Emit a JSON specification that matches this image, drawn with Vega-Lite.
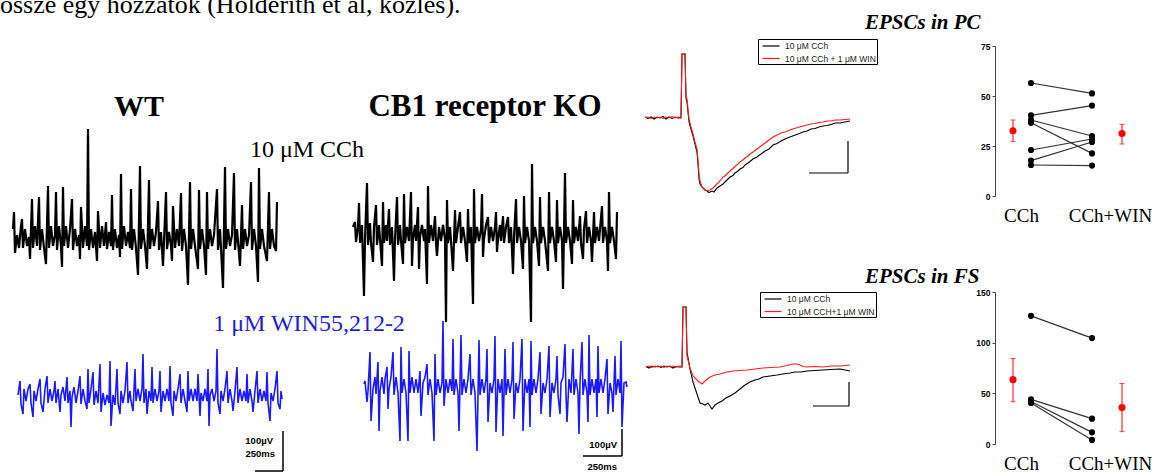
{
"$schema":"https://vega.github.io/schema/vega-lite/v6.json",
"padding":{"left":0,"top":-8,"right":0,"bottom":0},
"background":"white",
"title":{"text":"össze egy hozzátok (Holderith et al, közlés).","anchor":"start","frame":"group","dx":-13,"offset":-27,"baseline":"alphabetic","font":"Liberation Serif","fontSize":26,"fontWeight":"normal","color":"black"},
"config":{"view":{"stroke":null}},
"datasets":{
"wt_cch":[{"t":0,"v":7},{"t":1,"v":24},{"t":2,"v":-17},{"t":4,"v":1},{"t":6,"v":-12},{"t":8,"v":10},{"t":9,"v":17},{"t":10,"v":-12},{"t":12,"v":7},{"t":14,"v":-10},{"t":16,"v":-1},{"t":17,"v":-23},{"t":19,"v":37},{"t":20,"v":-12},{"t":22,"v":10},{"t":24,"v":-10},{"t":26,"v":39},{"t":27,"v":-14},{"t":29,"v":7},{"t":31,"v":-12},{"t":33,"v":-28},{"t":35,"v":50},{"t":36,"v":-12},{"t":38,"v":10},{"t":40,"v":-10},{"t":42,"v":1},{"t":43,"v":44},{"t":44,"v":-14},{"t":46,"v":10},{"t":48,"v":-10},{"t":49,"v":-31},{"t":50,"v":49},{"t":51,"v":-10},{"t":53,"v":10},{"t":55,"v":-12},{"t":57,"v":7},{"t":59,"v":37},{"t":60,"v":-14},{"t":62,"v":7},{"t":64,"v":-10},{"t":66,"v":1},{"t":67,"v":-23},{"t":68,"v":29},{"t":70,"v":-12},{"t":72,"v":10},{"t":74,"v":-10},{"t":75,"v":107},{"t":76,"v":-14},{"t":78,"v":7},{"t":80,"v":-12},{"t":82,"v":4},{"t":84,"v":-25},{"t":85,"v":25},{"t":87,"v":-12},{"t":89,"v":10},{"t":91,"v":-10},{"t":93,"v":14},{"t":94,"v":-13},{"t":96,"v":4},{"t":98,"v":-10},{"t":99,"v":41},{"t":100,"v":-14},{"t":102,"v":7},{"t":104,"v":-12},{"t":106,"v":1},{"t":107,"v":-21},{"t":108,"v":62},{"t":109,"v":-13},{"t":111,"v":10},{"t":113,"v":-10},{"t":115,"v":4},{"t":117,"v":-12},{"t":118,"v":47},{"t":119,"v":-14},{"t":121,"v":7},{"t":123,"v":-12},{"t":125,"v":-39},{"t":127,"v":70},{"t":128,"v":-13},{"t":130,"v":7},{"t":132,"v":-10},{"t":134,"v":-33},{"t":136,"v":56},{"t":137,"v":-13},{"t":139,"v":7},{"t":141,"v":-10},{"t":143,"v":4},{"t":145,"v":35},{"t":146,"v":-14},{"t":148,"v":4},{"t":150,"v":-30},{"t":153,"v":44},{"t":154,"v":-13},{"t":156,"v":4},{"t":158,"v":-10},{"t":159,"v":-25},{"t":160,"v":30},{"t":162,"v":-12},{"t":164,"v":7},{"t":166,"v":-10},{"t":168,"v":43},{"t":169,"v":-15},{"t":171,"v":7},{"t":173,"v":-10},{"t":175,"v":-49},{"t":177,"v":54},{"t":178,"v":-13},{"t":180,"v":7},{"t":182,"v":-10},{"t":185,"v":-33},{"t":186,"v":46},{"t":187,"v":-13},{"t":189,"v":7},{"t":191,"v":-10},{"t":193,"v":-39},{"t":194,"v":44},{"t":195,"v":-13},{"t":197,"v":7},{"t":199,"v":-10},{"t":201,"v":1},{"t":204,"v":47},{"t":205,"v":-14},{"t":207,"v":7},{"t":210,"v":-52},{"t":212,"v":69},{"t":213,"v":-13},{"t":215,"v":7},{"t":217,"v":-10},{"t":219,"v":1},{"t":221,"v":63},{"t":222,"v":-14},{"t":224,"v":7},{"t":227,"v":-30},{"t":229,"v":31},{"t":230,"v":-13},{"t":232,"v":7},{"t":234,"v":-10},{"t":236,"v":1},{"t":238,"v":54},{"t":239,"v":-14},{"t":241,"v":7},{"t":243,"v":-10},{"t":245,"v":-46},{"t":246,"v":68},{"t":247,"v":-13},{"t":249,"v":7},{"t":251,"v":-10},{"t":254,"v":-25},{"t":256,"v":44},{"t":257,"v":-13},{"t":259,"v":7},{"t":261,"v":-10},{"t":263,"v":-15},{"t":264,"v":34}],
"ko_cch":[{"t":0,"v":6},{"t":2,"v":11},{"t":3,"v":-9},{"t":5,"v":6},{"t":6,"v":30},{"t":7,"v":-10},{"t":9,"v":8},{"t":11,"v":-63},{"t":12,"v":-6},{"t":14,"v":50},{"t":15,"v":-12},{"t":17,"v":10},{"t":18,"v":-10},{"t":20,"v":-29},{"t":21,"v":6},{"t":23,"v":28},{"t":24,"v":-12},{"t":26,"v":8},{"t":27,"v":-6},{"t":29,"v":-33},{"t":30,"v":31},{"t":31,"v":-10},{"t":33,"v":8},{"t":34,"v":-8},{"t":36,"v":24},{"t":37,"v":-12},{"t":39,"v":6},{"t":41,"v":-48},{"t":42,"v":-6},{"t":44,"v":36},{"t":45,"v":-12},{"t":47,"v":8},{"t":48,"v":-8},{"t":50,"v":-31},{"t":51,"v":39},{"t":52,"v":-10},{"t":54,"v":6},{"t":56,"v":-8},{"t":58,"v":41},{"t":59,"v":-33},{"t":60,"v":-6},{"t":62,"v":8},{"t":63,"v":-8},{"t":65,"v":26},{"t":66,"v":-36},{"t":67,"v":-4},{"t":69,"v":8},{"t":71,"v":-8},{"t":72,"v":4},{"t":74,"v":-51},{"t":75,"v":47},{"t":76,"v":-10},{"t":78,"v":8},{"t":80,"v":-8},{"t":82,"v":17},{"t":83,"v":-10},{"t":84,"v":-23},{"t":86,"v":6},{"t":88,"v":-8},{"t":90,"v":8},{"t":92,"v":-6},{"t":93,"v":-89},{"t":94,"v":33},{"t":95,"v":-10},{"t":97,"v":6},{"t":98,"v":-8},{"t":100,"v":-38},{"t":102,"v":23},{"t":103,"v":-10},{"t":105,"v":6},{"t":107,"v":21},{"t":108,"v":-10},{"t":110,"v":6},{"t":112,"v":-8},{"t":114,"v":-29},{"t":115,"v":24},{"t":116,"v":-10},{"t":118,"v":6},{"t":120,"v":-71},{"t":121,"v":44},{"t":122,"v":-10},{"t":124,"v":6},{"t":126,"v":-8},{"t":128,"v":4},{"t":129,"v":39},{"t":130,"v":-24},{"t":131,"v":-6},{"t":133,"v":8},{"t":135,"v":16},{"t":136,"v":-10},{"t":138,"v":6},{"t":140,"v":-8},{"t":142,"v":6},{"t":143,"v":21},{"t":144,"v":-19},{"t":145,"v":-6},{"t":147,"v":8},{"t":148,"v":-8},{"t":150,"v":17},{"t":151,"v":-10},{"t":153,"v":6},{"t":155,"v":16},{"t":156,"v":-10},{"t":158,"v":6},{"t":160,"v":-41},{"t":161,"v":-4},{"t":163,"v":34},{"t":164,"v":-10},{"t":166,"v":6},{"t":168,"v":-8},{"t":170,"v":-36},{"t":171,"v":37},{"t":172,"v":-10},{"t":174,"v":6},{"t":176,"v":-8},{"t":178,"v":-89},{"t":179,"v":69},{"t":180,"v":-10},{"t":182,"v":6},{"t":184,"v":-8},{"t":186,"v":-33},{"t":187,"v":36},{"t":188,"v":-10},{"t":190,"v":6},{"t":192,"v":-8},{"t":195,"v":-38},{"t":196,"v":41},{"t":197,"v":-10},{"t":199,"v":6},{"t":201,"v":-8},{"t":203,"v":-29},{"t":204,"v":33},{"t":205,"v":-10},{"t":207,"v":6},{"t":209,"v":-8},{"t":210,"v":-56},{"t":212,"v":60},{"t":213,"v":-10},{"t":215,"v":6},{"t":217,"v":-8},{"t":219,"v":-31},{"t":220,"v":33},{"t":221,"v":-10},{"t":223,"v":6},{"t":225,"v":-8},{"t":227,"v":17},{"t":228,"v":-10},{"t":230,"v":-26},{"t":231,"v":4},{"t":233,"v":22},{"t":234,"v":-10},{"t":236,"v":6},{"t":238,"v":-8},{"t":239,"v":-29},{"t":241,"v":21},{"t":242,"v":-10},{"t":244,"v":6},{"t":246,"v":-8},{"t":247,"v":4},{"t":249,"v":27},{"t":250,"v":-10},{"t":252,"v":6},{"t":254,"v":-8},{"t":255,"v":-38},{"t":256,"v":41},{"t":257,"v":-10},{"t":259,"v":6},{"t":261,"v":-8},{"t":263,"v":-26},{"t":264,"v":21}],
"wt_win":[{"t":0,"v":0},{"t":2,"v":14},{"t":3,"v":-9},{"t":5,"v":-19},{"t":6,"v":6},{"t":8,"v":-6},{"t":10,"v":6},{"t":12,"v":11},{"t":13,"v":-8},{"t":15,"v":-22},{"t":16,"v":4},{"t":18,"v":-6},{"t":20,"v":6},{"t":22,"v":16},{"t":23,"v":-8},{"t":25,"v":-17},{"t":27,"v":6},{"t":29,"v":19},{"t":30,"v":-8},{"t":32,"v":6},{"t":34,"v":-6},{"t":36,"v":4},{"t":37,"v":14},{"t":38,"v":-8},{"t":40,"v":6},{"t":42,"v":-17},{"t":43,"v":0},{"t":45,"v":8},{"t":47,"v":-6},{"t":49,"v":18},{"t":50,"v":-8},{"t":52,"v":4},{"t":53,"v":-32},{"t":54,"v":-2},{"t":56,"v":8},{"t":58,"v":-8},{"t":60,"v":4},{"t":62,"v":19},{"t":63,"v":-9},{"t":65,"v":6},{"t":67,"v":-6},{"t":69,"v":-14},{"t":70,"v":26},{"t":71,"v":-8},{"t":73,"v":6},{"t":75,"v":23},{"t":76,"v":-10},{"t":78,"v":4},{"t":80,"v":-8},{"t":82,"v":31},{"t":83,"v":-17},{"t":85,"v":2},{"t":87,"v":-10},{"t":89,"v":0},{"t":91,"v":-8},{"t":92,"v":34},{"t":93,"v":-31},{"t":95,"v":0},{"t":97,"v":-10},{"t":99,"v":26},{"t":100,"v":-8},{"t":102,"v":-19},{"t":103,"v":4},{"t":105,"v":-8},{"t":107,"v":4},{"t":109,"v":33},{"t":110,"v":-8},{"t":112,"v":4},{"t":113,"v":-6},{"t":115,"v":-16},{"t":117,"v":26},{"t":118,"v":-6},{"t":120,"v":6},{"t":122,"v":-6},{"t":124,"v":6},{"t":125,"v":41},{"t":126,"v":-8},{"t":128,"v":6},{"t":129,"v":-19},{"t":131,"v":4},{"t":133,"v":-6},{"t":134,"v":28},{"t":135,"v":-8},{"t":137,"v":6},{"t":139,"v":-6},{"t":141,"v":4},{"t":142,"v":24},{"t":143,"v":-17},{"t":145,"v":4},{"t":147,"v":-6},{"t":149,"v":6},{"t":151,"v":-6},{"t":152,"v":29},{"t":153,"v":-8},{"t":155,"v":-21},{"t":156,"v":4},{"t":158,"v":-6},{"t":160,"v":6},{"t":162,"v":21},{"t":163,"v":-8},{"t":165,"v":6},{"t":167,"v":-6},{"t":169,"v":-17},{"t":170,"v":24},{"t":171,"v":-6},{"t":173,"v":6},{"t":175,"v":-6},{"t":177,"v":6},{"t":179,"v":-6},{"t":180,"v":21},{"t":182,"v":-21},{"t":183,"v":2},{"t":185,"v":-6},{"t":187,"v":6},{"t":189,"v":-6},{"t":190,"v":26},{"t":191,"v":-31},{"t":192,"v":0},{"t":194,"v":6},{"t":196,"v":-6},{"t":198,"v":4},{"t":199,"v":46},{"t":200,"v":-8},{"t":202,"v":-19},{"t":203,"v":4},{"t":205,"v":-6},{"t":207,"v":6},{"t":209,"v":24},{"t":210,"v":-8},{"t":212,"v":6},{"t":214,"v":-6},{"t":215,"v":-16},{"t":217,"v":4},{"t":219,"v":28},{"t":220,"v":-8},{"t":222,"v":6},{"t":224,"v":-6},{"t":226,"v":4},{"t":228,"v":-6},{"t":229,"v":21},{"t":230,"v":-8},{"t":232,"v":6},{"t":234,"v":-6},{"t":235,"v":-17},{"t":237,"v":4},{"t":239,"v":24},{"t":240,"v":-8},{"t":242,"v":6},{"t":244,"v":-6},{"t":246,"v":4},{"t":248,"v":-6},{"t":249,"v":23},{"t":250,"v":-8},{"t":252,"v":-26},{"t":253,"v":2},{"t":255,"v":-6},{"t":257,"v":6},{"t":259,"v":24},{"t":260,"v":-8},{"t":262,"v":-14},{"t":263,"v":4},{"t":264,"v":-4}],
"ko_win":[{"t":-1,"v":0},{"t":0,"v":3},{"t":2,"v":-18},{"t":3,"v":-7},{"t":5,"v":32},{"t":6,"v":-37},{"t":8,"v":-5},{"t":10,"v":7},{"t":11,"v":-10},{"t":13,"v":22},{"t":14,"v":-47},{"t":15,"v":-7},{"t":17,"v":7},{"t":19,"v":-10},{"t":20,"v":5},{"t":22,"v":17},{"t":23,"v":-25},{"t":24,"v":-5},{"t":26,"v":7},{"t":28,"v":32},{"t":29,"v":-11},{"t":31,"v":7},{"t":33,"v":-9},{"t":35,"v":-57},{"t":36,"v":37},{"t":37,"v":-9},{"t":39,"v":5},{"t":41,"v":-9},{"t":43,"v":-57},{"t":44,"v":33},{"t":45,"v":-9},{"t":47,"v":7},{"t":49,"v":-9},{"t":51,"v":5},{"t":53,"v":-9},{"t":55,"v":13},{"t":56,"v":-32},{"t":58,"v":1},{"t":60,"v":7},{"t":62,"v":20},{"t":63,"v":-11},{"t":65,"v":5},{"t":67,"v":-9},{"t":69,"v":-57},{"t":70,"v":30},{"t":71,"v":-11},{"t":73,"v":5},{"t":75,"v":-9},{"t":77,"v":1},{"t":78,"v":63},{"t":79,"v":-22},{"t":81,"v":5},{"t":83,"v":-9},{"t":85,"v":5},{"t":87,"v":-7},{"t":88,"v":45},{"t":89,"v":-11},{"t":91,"v":5},{"t":93,"v":-9},{"t":94,"v":-47},{"t":96,"v":49},{"t":97,"v":-11},{"t":99,"v":5},{"t":101,"v":-9},{"t":103,"v":5},{"t":105,"v":30},{"t":106,"v":-11},{"t":108,"v":5},{"t":110,"v":-9},{"t":112,"v":-67},{"t":114,"v":44},{"t":115,"v":-11},{"t":117,"v":5},{"t":119,"v":-9},{"t":121,"v":5},{"t":122,"v":35},{"t":123,"v":-38},{"t":125,"v":1},{"t":127,"v":-9},{"t":129,"v":5},{"t":130,"v":48},{"t":131,"v":-48},{"t":133,"v":5},{"t":135,"v":-9},{"t":137,"v":5},{"t":138,"v":-52},{"t":140,"v":35},{"t":141,"v":-11},{"t":143,"v":5},{"t":145,"v":-9},{"t":147,"v":5},{"t":148,"v":42},{"t":149,"v":-35},{"t":151,"v":1},{"t":153,"v":-9},{"t":155,"v":5},{"t":157,"v":45},{"t":158,"v":-47},{"t":160,"v":5},{"t":162,"v":-9},{"t":164,"v":5},{"t":165,"v":-43},{"t":166,"v":43},{"t":167,"v":-11},{"t":169,"v":5},{"t":171,"v":-9},{"t":173,"v":5},{"t":175,"v":32},{"t":176,"v":-30},{"t":178,"v":1},{"t":180,"v":-9},{"t":182,"v":5},{"t":184,"v":38},{"t":185,"v":-33},{"t":187,"v":1},{"t":189,"v":-9},{"t":191,"v":5},{"t":192,"v":28},{"t":193,"v":-11},{"t":195,"v":-30},{"t":196,"v":1},{"t":198,"v":7},{"t":200,"v":40},{"t":201,"v":-11},{"t":202,"v":-38},{"t":204,"v":5},{"t":206,"v":-9},{"t":208,"v":35},{"t":209,"v":-11},{"t":211,"v":5},{"t":213,"v":-9},{"t":214,"v":-50},{"t":215,"v":1},{"t":217,"v":42},{"t":218,"v":-11},{"t":220,"v":5},{"t":222,"v":-9},{"t":223,"v":-38},{"t":224,"v":49},{"t":225,"v":-11},{"t":227,"v":5},{"t":229,"v":-9},{"t":231,"v":5},{"t":232,"v":-33},{"t":233,"v":38},{"t":234,"v":-9},{"t":236,"v":5},{"t":238,"v":-9},{"t":240,"v":5},{"t":242,"v":25},{"t":243,"v":-30},{"t":245,"v":1},{"t":247,"v":-9},{"t":248,"v":-28},{"t":250,"v":28},{"t":251,"v":-11},{"t":253,"v":5},{"t":255,"v":-9},{"t":256,"v":43},{"t":257,"v":-43},{"t":259,"v":1},{"t":261,"v":2},{"t":262,"v":-3}],
"epsc_pc":[{"cond":"10 μM CCh","t":0,"v":1},{"cond":"10 μM CCh","t":3,"v":-0.5},{"cond":"10 μM CCh","t":6,"v":1},{"cond":"10 μM CCh","t":9,"v":-1},{"cond":"10 μM CCh","t":12,"v":1},{"cond":"10 μM CCh","t":15,"v":0},{"cond":"10 μM CCh","t":18,"v":1.5},{"cond":"10 μM CCh","t":21,"v":-1},{"cond":"10 μM CCh","t":24,"v":1},{"cond":"10 μM CCh","t":27,"v":-0.5},{"cond":"10 μM CCh","t":30,"v":1},{"cond":"10 μM CCh","t":33,"v":0},{"cond":"10 μM CCh","t":36,"v":0},{"cond":"10 μM CCh","t":37,"v":64},{"cond":"10 μM CCh","t":40,"v":64},{"cond":"10 μM CCh","t":41,"v":20},{"cond":"10 μM CCh","t":42,"v":16},{"cond":"10 μM CCh","t":44,"v":-4},{"cond":"10 μM CCh","t":46,"v":-11},{"cond":"10 μM CCh","t":48,"v":-18},{"cond":"10 μM CCh","t":50,"v":-26},{"cond":"10 μM CCh","t":52,"v":-34},{"cond":"10 μM CCh","t":53,"v":-46},{"cond":"10 μM CCh","t":54,"v":-61},{"cond":"10 μM CCh","t":55,"v":-66},{"cond":"10 μM CCh","t":57,"v":-69},{"cond":"10 μM CCh","t":60,"v":-72},{"cond":"10 μM CCh","t":62,"v":-73},{"cond":"10 μM CCh","t":64,"v":-74.5},{"cond":"10 μM CCh","t":67,"v":-73},{"cond":"10 μM CCh","t":69,"v":-74},{"cond":"10 μM CCh","t":72,"v":-70},{"cond":"10 μM CCh","t":75,"v":-68},{"cond":"10 μM CCh","t":78,"v":-66},{"cond":"10 μM CCh","t":80,"v":-64},{"cond":"10 μM CCh","t":83,"v":-61},{"cond":"10 μM CCh","t":85,"v":-59},{"cond":"10 μM CCh","t":88,"v":-57.5},{"cond":"10 μM CCh","t":90,"v":-55},{"cond":"10 μM CCh","t":93,"v":-53},{"cond":"10 μM CCh","t":95,"v":-51},{"cond":"10 μM CCh","t":98,"v":-49.5},{"cond":"10 μM CCh","t":100,"v":-47},{"cond":"10 μM CCh","t":103,"v":-45},{"cond":"10 μM CCh","t":105,"v":-43.5},{"cond":"10 μM CCh","t":108,"v":-41},{"cond":"10 μM CCh","t":112,"v":-39},{"cond":"10 μM CCh","t":116,"v":-36},{"cond":"10 μM CCh","t":120,"v":-33},{"cond":"10 μM CCh","t":124,"v":-31},{"cond":"10 μM CCh","t":128,"v":-27},{"cond":"10 μM CCh","t":132,"v":-25.5},{"cond":"10 μM CCh","t":136,"v":-23},{"cond":"10 μM CCh","t":140,"v":-21},{"cond":"10 μM CCh","t":145,"v":-19},{"cond":"10 μM CCh","t":149,"v":-17.5},{"cond":"10 μM CCh","t":153,"v":-16},{"cond":"10 μM CCh","t":158,"v":-14},{"cond":"10 μM CCh","t":162,"v":-13},{"cond":"10 μM CCh","t":166,"v":-11},{"cond":"10 μM CCh","t":170,"v":-10.5},{"cond":"10 μM CCh","t":174,"v":-9},{"cond":"10 μM CCh","t":178,"v":-8},{"cond":"10 μM CCh","t":182,"v":-7.5},{"cond":"10 μM CCh","t":186,"v":-6.5},{"cond":"10 μM CCh","t":190,"v":-5},{"cond":"10 μM CCh","t":195,"v":-5},{"cond":"10 μM CCh","t":200,"v":-4},{"cond":"10 μM CCh","t":205,"v":-3},
{"cond":"10 μM CCh + 1 μM WIN","t":0,"v":0.5},{"cond":"10 μM CCh + 1 μM WIN","t":3,"v":1},{"cond":"10 μM CCh + 1 μM WIN","t":6,"v":-0.5},{"cond":"10 μM CCh + 1 μM WIN","t":9,"v":1},{"cond":"10 μM CCh + 1 μM WIN","t":12,"v":0},{"cond":"10 μM CCh + 1 μM WIN","t":15,"v":1},{"cond":"10 μM CCh + 1 μM WIN","t":18,"v":-0.5},{"cond":"10 μM CCh + 1 μM WIN","t":21,"v":1},{"cond":"10 μM CCh + 1 μM WIN","t":24,"v":0},{"cond":"10 μM CCh + 1 μM WIN","t":27,"v":1.5},{"cond":"10 μM CCh + 1 μM WIN","t":30,"v":0},{"cond":"10 μM CCh + 1 μM WIN","t":33,"v":1},{"cond":"10 μM CCh + 1 μM WIN","t":36,"v":0.5},{"cond":"10 μM CCh + 1 μM WIN","t":37,"v":64},{"cond":"10 μM CCh + 1 μM WIN","t":40,"v":64},{"cond":"10 μM CCh + 1 μM WIN","t":41,"v":22},{"cond":"10 μM CCh + 1 μM WIN","t":42,"v":19},{"cond":"10 μM CCh + 1 μM WIN","t":44,"v":-1},{"cond":"10 μM CCh + 1 μM WIN","t":46,"v":-9},{"cond":"10 μM CCh + 1 μM WIN","t":48,"v":-16},{"cond":"10 μM CCh + 1 μM WIN","t":50,"v":-24},{"cond":"10 μM CCh + 1 μM WIN","t":52,"v":-31},{"cond":"10 μM CCh + 1 μM WIN","t":53,"v":-42},{"cond":"10 μM CCh + 1 μM WIN","t":54,"v":-56},{"cond":"10 μM CCh + 1 μM WIN","t":55,"v":-63},{"cond":"10 μM CCh + 1 μM WIN","t":57,"v":-69},{"cond":"10 μM CCh + 1 μM WIN","t":60,"v":-72},{"cond":"10 μM CCh + 1 μM WIN","t":62,"v":-72.5},{"cond":"10 μM CCh + 1 μM WIN","t":65,"v":-72},{"cond":"10 μM CCh + 1 μM WIN","t":68,"v":-70},{"cond":"10 μM CCh + 1 μM WIN","t":72,"v":-66},{"cond":"10 μM CCh + 1 μM WIN","t":75,"v":-63},{"cond":"10 μM CCh + 1 μM WIN","t":78,"v":-59},{"cond":"10 μM CCh + 1 μM WIN","t":80,"v":-58},{"cond":"10 μM CCh + 1 μM WIN","t":83,"v":-55},{"cond":"10 μM CCh + 1 μM WIN","t":85,"v":-53},{"cond":"10 μM CCh + 1 μM WIN","t":88,"v":-50.5},{"cond":"10 μM CCh + 1 μM WIN","t":90,"v":-48.5},{"cond":"10 μM CCh + 1 μM WIN","t":93,"v":-46},{"cond":"10 μM CCh + 1 μM WIN","t":95,"v":-44},{"cond":"10 μM CCh + 1 μM WIN","t":98,"v":-42},{"cond":"10 μM CCh + 1 μM WIN","t":100,"v":-40},{"cond":"10 μM CCh + 1 μM WIN","t":103,"v":-38},{"cond":"10 μM CCh + 1 μM WIN","t":105,"v":-36},{"cond":"10 μM CCh + 1 μM WIN","t":108,"v":-34},{"cond":"10 μM CCh + 1 μM WIN","t":112,"v":-31},{"cond":"10 μM CCh + 1 μM WIN","t":116,"v":-28},{"cond":"10 μM CCh + 1 μM WIN","t":120,"v":-25},{"cond":"10 μM CCh + 1 μM WIN","t":124,"v":-22},{"cond":"10 μM CCh + 1 μM WIN","t":128,"v":-19},{"cond":"10 μM CCh + 1 μM WIN","t":132,"v":-17},{"cond":"10 μM CCh + 1 μM WIN","t":136,"v":-15},{"cond":"10 μM CCh + 1 μM WIN","t":140,"v":-14},{"cond":"10 μM CCh + 1 μM WIN","t":145,"v":-12},{"cond":"10 μM CCh + 1 μM WIN","t":149,"v":-10.5},{"cond":"10 μM CCh + 1 μM WIN","t":153,"v":-9.5},{"cond":"10 μM CCh + 1 μM WIN","t":158,"v":-8},{"cond":"10 μM CCh + 1 μM WIN","t":162,"v":-7},{"cond":"10 μM CCh + 1 μM WIN","t":166,"v":-6},{"cond":"10 μM CCh + 1 μM WIN","t":170,"v":-5.5},{"cond":"10 μM CCh + 1 μM WIN","t":174,"v":-4.5},{"cond":"10 μM CCh + 1 μM WIN","t":178,"v":-4},{"cond":"10 μM CCh + 1 μM WIN","t":182,"v":-3},{"cond":"10 μM CCh + 1 μM WIN","t":186,"v":-3},{"cond":"10 μM CCh + 1 μM WIN","t":190,"v":-2},{"cond":"10 μM CCh + 1 μM WIN","t":195,"v":-2},{"cond":"10 μM CCh + 1 μM WIN","t":200,"v":-1.5},{"cond":"10 μM CCh + 1 μM WIN","t":205,"v":-1}],
"epsc_fs":[{"cond":"10 μM CCh","t":1,"v":0.5},{"cond":"10 μM CCh","t":4,"v":-1},{"cond":"10 μM CCh","t":7,"v":1},{"cond":"10 μM CCh","t":10,"v":0},{"cond":"10 μM CCh","t":13,"v":1},{"cond":"10 μM CCh","t":16,"v":-0.5},{"cond":"10 μM CCh","t":19,"v":1},{"cond":"10 μM CCh","t":22,"v":0},{"cond":"10 μM CCh","t":25,"v":1},{"cond":"10 μM CCh","t":28,"v":-1},{"cond":"10 μM CCh","t":31,"v":0.5},{"cond":"10 μM CCh","t":34,"v":0},{"cond":"10 μM CCh","t":37,"v":0},{"cond":"10 μM CCh","t":38,"v":60},{"cond":"10 μM CCh","t":41,"v":60},{"cond":"10 μM CCh","t":42,"v":15},{"cond":"10 μM CCh","t":45,"v":-2},{"cond":"10 μM CCh","t":48,"v":-15},{"cond":"10 μM CCh","t":52,"v":-27},{"cond":"10 μM CCh","t":55,"v":-36},{"cond":"10 μM CCh","t":58,"v":-37},{"cond":"10 μM CCh","t":60,"v":-38},{"cond":"10 μM CCh","t":63,"v":-36},{"cond":"10 μM CCh","t":65,"v":-39},{"cond":"10 μM CCh","t":67,"v":-42},{"cond":"10 μM CCh","t":70,"v":-38},{"cond":"10 μM CCh","t":73,"v":-36},{"cond":"10 μM CCh","t":77,"v":-34},{"cond":"10 μM CCh","t":81,"v":-31},{"cond":"10 μM CCh","t":85,"v":-29},{"cond":"10 μM CCh","t":90,"v":-26},{"cond":"10 μM CCh","t":95,"v":-22},{"cond":"10 μM CCh","t":100,"v":-18},{"cond":"10 μM CCh","t":105,"v":-15},{"cond":"10 μM CCh","t":110,"v":-13},{"cond":"10 μM CCh","t":114,"v":-12},{"cond":"10 μM CCh","t":118,"v":-10},{"cond":"10 μM CCh","t":125,"v":-9},{"cond":"10 μM CCh","t":132,"v":-8},{"cond":"10 μM CCh","t":138,"v":-7},{"cond":"10 μM CCh","t":145,"v":-6},{"cond":"10 μM CCh","t":150,"v":-5},{"cond":"10 μM CCh","t":156,"v":-5},{"cond":"10 μM CCh","t":162,"v":-4},{"cond":"10 μM CCh","t":170,"v":-3.5},{"cond":"10 μM CCh","t":178,"v":-3},{"cond":"10 μM CCh","t":186,"v":-2.5},{"cond":"10 μM CCh","t":195,"v":-2},{"cond":"10 μM CCh","t":200,"v":-3},{"cond":"10 μM CCh","t":205,"v":-4},
{"cond":"10 μM CCH+1 μM WIN","t":1,"v":0},{"cond":"10 μM CCH+1 μM WIN","t":4,"v":1},{"cond":"10 μM CCH+1 μM WIN","t":7,"v":-0.5},{"cond":"10 μM CCH+1 μM WIN","t":10,"v":1},{"cond":"10 μM CCH+1 μM WIN","t":13,"v":0},{"cond":"10 μM CCH+1 μM WIN","t":16,"v":1},{"cond":"10 μM CCH+1 μM WIN","t":19,"v":-0.5},{"cond":"10 μM CCH+1 μM WIN","t":22,"v":1},{"cond":"10 μM CCH+1 μM WIN","t":25,"v":0},{"cond":"10 μM CCH+1 μM WIN","t":28,"v":1},{"cond":"10 μM CCH+1 μM WIN","t":31,"v":0},{"cond":"10 μM CCH+1 μM WIN","t":34,"v":1},{"cond":"10 μM CCH+1 μM WIN","t":37,"v":0.5},{"cond":"10 μM CCH+1 μM WIN","t":38,"v":60},{"cond":"10 μM CCH+1 μM WIN","t":41,"v":60},{"cond":"10 μM CCH+1 μM WIN","t":42,"v":11},{"cond":"10 μM CCH+1 μM WIN","t":45,"v":-1},{"cond":"10 μM CCH+1 μM WIN","t":48,"v":-9},{"cond":"10 μM CCH+1 μM WIN","t":53,"v":-14},{"cond":"10 μM CCH+1 μM WIN","t":57,"v":-17},{"cond":"10 μM CCH+1 μM WIN","t":60,"v":-14},{"cond":"10 μM CCH+1 μM WIN","t":65,"v":-10},{"cond":"10 μM CCH+1 μM WIN","t":70,"v":-8},{"cond":"10 μM CCH+1 μM WIN","t":75,"v":-7},{"cond":"10 μM CCH+1 μM WIN","t":82,"v":-5},{"cond":"10 μM CCH+1 μM WIN","t":88,"v":-4},{"cond":"10 μM CCH+1 μM WIN","t":95,"v":-3.5},{"cond":"10 μM CCH+1 μM WIN","t":102,"v":-3},{"cond":"10 μM CCH+1 μM WIN","t":110,"v":-2},{"cond":"10 μM CCH+1 μM WIN","t":118,"v":-1},{"cond":"10 μM CCH+1 μM WIN","t":126,"v":-0.5},{"cond":"10 μM CCH+1 μM WIN","t":135,"v":0},{"cond":"10 μM CCH+1 μM WIN","t":142,"v":1.5},{"cond":"10 μM CCH+1 μM WIN","t":148,"v":3},{"cond":"10 μM CCH+1 μM WIN","t":152,"v":3},{"cond":"10 μM CCH+1 μM WIN","t":155,"v":2},{"cond":"10 μM CCH+1 μM WIN","t":158,"v":0.5},{"cond":"10 μM CCH+1 μM WIN","t":162,"v":0},{"cond":"10 μM CCH+1 μM WIN","t":170,"v":0.5},{"cond":"10 μM CCH+1 μM WIN","t":178,"v":0},{"cond":"10 μM CCH+1 μM WIN","t":186,"v":1},{"cond":"10 μM CCH+1 μM WIN","t":195,"v":1},{"cond":"10 μM CCH+1 μM WIN","t":200,"v":1.5},{"cond":"10 μM CCH+1 μM WIN","t":205,"v":2}],
"bars":[{"panel":"wt","t":237,"t2":265,"v":-76,"v2":-76},{"panel":"wt","t":265,"t2":265,"v":-36,"v2":-76},{"panel":"ko","t":218,"t2":257,"v":-72,"v2":-72},{"panel":"ko","t":257,"t2":257,"v":-45,"v2":-72},{"panel":"pc","t":164,"t2":203,"v":-55,"v2":-55},{"panel":"pc","t":203,"t2":203,"v":-23,"v2":-55},{"panel":"fs","t":168,"t2":204,"v":-39,"v2":-39},{"panel":"fs","t":204,"t2":204,"v":-15,"v2":-39}],
"barlabels":[{"panel":"wt","t":255,"v":-46,"label":"100µV"},{"panel":"wt","t":257,"v":-59,"label":"250ms"},{"panel":"ko","t":252,"v":-61,"label":"100µV"},{"panel":"ko","t":252,"v":-83,"label":"250ms"}],
"cells":[{"panel":"PC","cell":1,"cond":"CCh","amp":56.5},{"panel":"PC","cell":1,"cond":"CCh+WIN","amp":51.3},{"panel":"PC","cell":2,"cond":"CCh","amp":40.3},{"panel":"PC","cell":2,"cond":"CCh+WIN","amp":45.2},{"panel":"PC","cell":3,"cond":"CCh","amp":38},{"panel":"PC","cell":3,"cond":"CCh+WIN","amp":30},{"panel":"PC","cell":4,"cond":"CCh","amp":36.6},{"panel":"PC","cell":4,"cond":"CCh+WIN","amp":21.3},{"panel":"PC","cell":5,"cond":"CCh","amp":23},{"panel":"PC","cell":5,"cond":"CCh+WIN","amp":28.5},{"panel":"PC","cell":6,"cond":"CCh","amp":17.7},{"panel":"PC","cell":6,"cond":"CCh+WIN","amp":27},{"panel":"PC","cell":7,"cond":"CCh","amp":15.5},{"panel":"PC","cell":7,"cond":"CCh+WIN","amp":15.2},{"panel":"FS","cell":1,"cond":"CCh","amp":126.5},{"panel":"FS","cell":1,"cond":"CCh+WIN","amp":104.5},{"panel":"FS","cell":2,"cond":"CCh","amp":44},{"panel":"FS","cell":2,"cond":"CCh+WIN","amp":25},{"panel":"FS","cell":3,"cond":"CCh","amp":42},{"panel":"FS","cell":3,"cond":"CCh+WIN","amp":11.5},{"panel":"FS","cell":4,"cond":"CCh","amp":40.5},{"panel":"FS","cell":4,"cond":"CCh+WIN","amp":4}],
"means":[{"panel":"PC","cond":"CCh","mean":32.6,"lo":27.2,"hi":38},{"panel":"PC","cond":"CCh+WIN","mean":31.2,"lo":26,"hi":35.8},{"panel":"FS","cond":"CCh","mean":63.5,"lo":41.7,"hi":84.4},{"panel":"FS","cond":"CCh+WIN","mean":36,"lo":12.2,"hi":59.7}]
},
"columns":4,
"align":"none",
"bounds":"flush",
"spacing":{"row":96,"column":16},
"resolve":{"scale":{"color":"independent"},"legend":{"color":"independent"}},
"concat":[
 {"title":{"text":"WT","frame":"group","anchor":"middle","dx":-36,"offset":-100,"baseline":"alphabetic","font":"Liberation Serif","fontSize":30,"fontWeight":"bold","color":"black"},
  "width":324,"height":150,"data":{"name":"wt_cch"},
  "mark":{"type":"line","color":"black","strokeWidth":2.2},
  "encoding":{"x":{"field":"t","type":"quantitative","scale":{"domain":[0,324],"nice":false,"zero":false},"axis":null},
              "y":{"field":"v","type":"quantitative","scale":{"domain":[40,190],"nice":false,"zero":false},"axis":null}}},
 {"title":{"text":"CB1 receptor KO","frame":"group","anchor":"middle","dx":-6,"offset":-101,"baseline":"alphabetic","font":"Liberation Serif","fontSize":31,"fontWeight":"bold","color":"black"},
  "width":276,"height":150,"data":{"name":"ko_cch"},
  "mark":{"type":"line","color":"black","strokeWidth":2.2},
  "encoding":{"x":{"field":"t","type":"quantitative","scale":{"domain":[0,276],"nice":false,"zero":false},"axis":null},
              "y":{"field":"v","type":"quantitative","scale":{"domain":[37,187],"nice":false,"zero":false},"axis":null}}},
 {"width":334,"height":150,
  "layer":[
   {"data":{"name":"epsc_pc"},"mark":{"type":"line","strokeWidth":1.1},
    "encoding":{"x":{"field":"t","type":"quantitative","scale":{"domain":[0,334],"nice":false,"zero":false},"axis":null},
                "y":{"field":"v","type":"quantitative","scale":{"domain":[-78,72],"nice":false,"zero":false},"axis":null},
                "color":{"field":"cond","type":"nominal","scale":{"domain":["10 μM CCh","10 μM CCh + 1 μM WIN"],"range":["black","#ff1a1a"]},
                         "legend":{"title":null,"orient":"none","legendX":113,"legendY":-7,"strokeColor":"black","fillColor":"white","padding":1,"symbolType":"M-1.7,0H1.7","symbolSize":100,"symbolStrokeWidth":1.2,"symbolOffset":6,"labelFont":"Liberation Sans","labelFontSize":8.5,"labelColor":"#222","rowPadding":1.5,"labelOffset":8}}}},
   {"data":{"name":"bars"},"transform":[{"filter":"datum.panel === 'pc'"}],"mark":{"type":"rule","color":"black","strokeWidth":1.2},
    "encoding":{"x":{"field":"t","type":"quantitative","axis":null},"x2":{"field":"t2"},"y":{"field":"v","type":"quantitative","axis":null},"y2":{"field":"v2"}}}
  ]},
 {"title":{"text":"EPSCs in PC","frame":"group","anchor":"start","dx":-130,"offset":-8,"baseline":"alphabetic","font":"Liberation Serif","fontSize":21,"fontWeight":"bold","fontStyle":"italic","color":"black"},
  "width":150,"height":150,
  "layer":[
   {"data":{"name":"cells"},"transform":[{"filter":"datum.panel === 'PC'"}],
    "encoding":{"x":{"field":"cond","type":"nominal","scale":{"type":"point","domain":["CCh","CCh+WIN"],"range":[36,97],"padding":0},
                     "axis":{"title":null,"orient":"bottom","domain":false,"ticks":false,"labelAngle":0,"labelFont":"Liberation Serif","labelFontSize":19,"labelColor":"black","labelPadding":10,"labelOffset":{"condition":{"test":"datum.value === 'CCh'","value":-10},"value":18}}},
                "y":{"field":"amp","type":"quantitative","scale":{"domain":[0,75],"nice":false},
                     "axis":{"title":null,"values":[0,12.5,25,37.5,50,62.5,75],"labelExpr":"datum.value % 25 === 0 ? datum.label : ''","grid":false,"domainColor":"#444","tickColor":"#444","tickSize":3,"labelFont":"Liberation Sans","labelFontSize":8.5,"labelFontWeight":"bold","labelColor":"black","labelPadding":2}}},
    "layer":[
     {"mark":{"type":"line","color":"#333","strokeWidth":1.2},"encoding":{"detail":{"field":"cell","type":"nominal"}}},
     {"mark":{"type":"circle","color":"black","opacity":1,"size":38}}
    ]},
   {"data":{"name":"means"},"transform":[{"filter":"datum.panel === 'PC'"}],
    "encoding":{"x":{"field":"cond","type":"nominal","scale":{"type":"point","domain":["CCh","CCh+WIN"],"range":[18,127],"padding":0},"axis":null}},
    "layer":[
     {"mark":{"type":"rule","color":"red","strokeWidth":1},"encoding":{"y":{"field":"lo","type":"quantitative"},"y2":{"field":"hi"}}},
     {"mark":{"type":"tick","orient":"horizontal","color":"red","size":5,"thickness":1},"encoding":{"y":{"field":"lo","type":"quantitative"}}},
     {"mark":{"type":"tick","orient":"horizontal","color":"red","size":5,"thickness":1},"encoding":{"y":{"field":"hi","type":"quantitative"}}},
     {"mark":{"type":"circle","color":"red","opacity":1,"size":50},"encoding":{"y":{"field":"mean","type":"quantitative"}}}
    ]}
  ],
  "resolve":{"scale":{"x":"independent"}}},
 {"title":{"text":"1 μM WIN55,212-2","frame":"group","anchor":"middle","dx":134,"offset":-63,"baseline":"alphabetic","font":"Liberation Serif","fontSize":24,"fontWeight":"normal","color":"#1e1ed2"},
  "width":324,"height":150,
  "layer":[
   {"data":{"name":"wt_win"},"mark":{"type":"line","color":"#1a1aff","strokeWidth":1.6},
    "encoding":{"x":{"field":"t","type":"quantitative","scale":{"domain":[-5,319],"nice":false,"zero":false},"axis":null},
                "y":{"field":"v","type":"quantitative","scale":{"domain":[-47,103],"nice":false,"zero":false},"axis":null}}},
   {"data":{"name":"bars"},"transform":[{"filter":"datum.panel === 'wt'"}],"mark":{"type":"rule","color":"black","strokeWidth":1.5},
    "encoding":{"x":{"field":"t","type":"quantitative","axis":null},"x2":{"field":"t2"},"y":{"field":"v","type":"quantitative","axis":null},"y2":{"field":"v2"}}},
   {"data":{"name":"barlabels"},"transform":[{"filter":"datum.panel === 'wt'"}],"mark":{"type":"text","align":"right","baseline":"middle","font":"Liberation Sans","fontSize":9.5,"fontWeight":"bold","color":"black"},
    "encoding":{"x":{"field":"t","type":"quantitative","axis":null},"y":{"field":"v","type":"quantitative","axis":null},"text":{"field":"label"}}}
  ]},
 {"title":{"text":"10 μM CCh","frame":"group","anchor":"middle","dx":-184,"offset":111,"baseline":"alphabetic","font":"Liberation Serif","fontSize":24,"fontWeight":"normal","color":"black"},
  "width":276,"height":150,
  "layer":[
   {"data":{"name":"ko_win"},"mark":{"type":"line","color":"#1a1aff","strokeWidth":1.6},
    "encoding":{"x":{"field":"t","type":"quantitative","scale":{"domain":[-12,264],"nice":false,"zero":false},"axis":null},
                "y":{"field":"v","type":"quantitative","scale":{"domain":[-58,92],"nice":false,"zero":false},"axis":null}}},
   {"data":{"name":"bars"},"transform":[{"filter":"datum.panel === 'ko'"}],"mark":{"type":"rule","color":"black","strokeWidth":1.5},
    "encoding":{"x":{"field":"t","type":"quantitative","axis":null},"x2":{"field":"t2"},"y":{"field":"v","type":"quantitative","axis":null},"y2":{"field":"v2"}}},
   {"data":{"name":"barlabels"},"transform":[{"filter":"datum.panel === 'ko'"}],"mark":{"type":"text","align":"right","baseline":"middle","font":"Liberation Sans","fontSize":9.5,"fontWeight":"bold","color":"black"},
    "encoding":{"x":{"field":"t","type":"quantitative","axis":null},"y":{"field":"v","type":"quantitative","axis":null},"text":{"field":"label"}}}
  ]},
 {"width":334,"height":120,
  "layer":[
   {"data":{"name":"epsc_fs"},"mark":{"type":"line","strokeWidth":1.1},
    "encoding":{"x":{"field":"t","type":"quantitative","scale":{"domain":[0,334],"nice":false,"zero":false},"axis":null},
                "y":{"field":"v","type":"quantitative","scale":{"domain":[-45,75],"nice":false,"zero":false},"axis":null},
                "color":{"field":"cond","type":"nominal","scale":{"domain":["10 μM CCh","10 μM CCH+1 μM WIN"],"range":["black","#ff1a1a"]},
                         "legend":{"title":null,"orient":"none","legendX":115,"legendY":0,"strokeColor":"black","fillColor":"white","padding":1,"symbolType":"M-1.7,0H1.7","symbolSize":100,"symbolStrokeWidth":1.2,"symbolOffset":6,"labelFont":"Liberation Sans","labelFontSize":8.5,"labelColor":"#222","rowPadding":1.5,"labelOffset":8}}}},
   {"data":{"name":"bars"},"transform":[{"filter":"datum.panel === 'fs'"}],"mark":{"type":"rule","color":"black","strokeWidth":1.2},
    "encoding":{"x":{"field":"t","type":"quantitative","axis":null},"x2":{"field":"t2"},"y":{"field":"v","type":"quantitative","axis":null},"y2":{"field":"v2"}}}
  ]},
 {"title":{"text":"EPSCs in FS","frame":"group","anchor":"start","dx":-130,"offset":-16,"baseline":"alphabetic","font":"Liberation Serif","fontSize":21,"fontWeight":"bold","fontStyle":"italic","color":"black"},
  "width":150,"height":152,
  "layer":[
   {"data":{"name":"cells"},"transform":[{"filter":"datum.panel === 'FS'"}],
    "encoding":{"x":{"field":"cond","type":"nominal","scale":{"type":"point","domain":["CCh","CCh+WIN"],"range":[36,97],"padding":0},
                     "axis":{"title":null,"orient":"bottom","domain":false,"ticks":false,"labelAngle":0,"labelFont":"Liberation Serif","labelFontSize":19,"labelColor":"black","labelPadding":10,"labelOffset":{"condition":{"test":"datum.value === 'CCh'","value":-10},"value":18}}},
                "y":{"field":"amp","type":"quantitative","scale":{"domain":[0,150],"nice":false},
                     "axis":{"title":null,"values":[0,25,50,75,100,125,150],"labelExpr":"datum.value % 50 === 0 ? datum.label : ''","grid":false,"domainColor":"#444","tickColor":"#444","tickSize":3,"labelFont":"Liberation Sans","labelFontSize":8.5,"labelFontWeight":"bold","labelColor":"black","labelPadding":2}}},
    "layer":[
     {"mark":{"type":"line","color":"#333","strokeWidth":1.2},"encoding":{"detail":{"field":"cell","type":"nominal"}}},
     {"mark":{"type":"circle","color":"black","opacity":1,"size":38}}
    ]},
   {"data":{"name":"means"},"transform":[{"filter":"datum.panel === 'FS'"}],
    "encoding":{"x":{"field":"cond","type":"nominal","scale":{"type":"point","domain":["CCh","CCh+WIN"],"range":[18,127],"padding":0},"axis":null}},
    "layer":[
     {"mark":{"type":"rule","color":"red","strokeWidth":1},"encoding":{"y":{"field":"lo","type":"quantitative"},"y2":{"field":"hi"}}},
     {"mark":{"type":"tick","orient":"horizontal","color":"red","size":5,"thickness":1},"encoding":{"y":{"field":"lo","type":"quantitative"}}},
     {"mark":{"type":"tick","orient":"horizontal","color":"red","size":5,"thickness":1},"encoding":{"y":{"field":"hi","type":"quantitative"}}},
     {"mark":{"type":"circle","color":"red","opacity":1,"size":50},"encoding":{"y":{"field":"mean","type":"quantitative"}}}
    ]}
  ],
  "resolve":{"scale":{"x":"independent"}}}
]
}
